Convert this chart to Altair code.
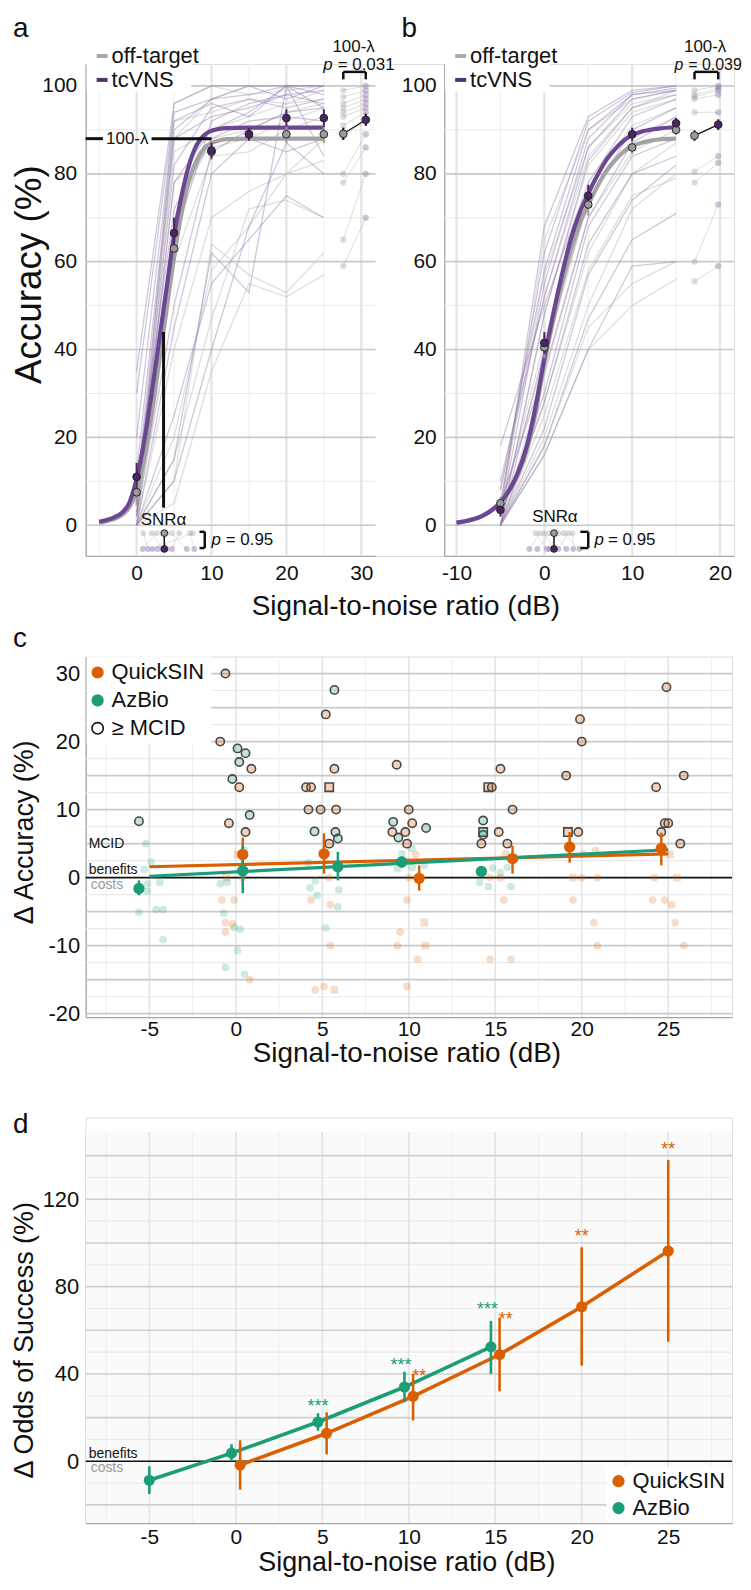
import altair as alt
import pandas as pd

FONT = "Liberation Sans"

PURPLE = "#4b2465"
PURPLE_FIT = "#6a4790"
PURPLE_IND = "#8e70ad"
PURPLE_LEG = "#55306f"
GREY = "#9c9c9c"
GREY_FIT = "#a3a3a3"
GREY_IND = "#c0c0c0"
GREY_LEG = "#aaaaaa"
ORANGE = "#d95f02"
GREEN = "#1b9e77"
GRID_DARK = "#c9c9c9"
GRID_LIGHT = "#eaeaea"
GRID_V = "#e4e4e4"
GRID_V_LIGHT = "#f0f0f0"
AXIS_COL = "#a6a6a6"
TXT = "#111111"

# ---------------- panel a (QuickSIN) ----------------
A_SNR = [0, 5, 10, 15, 20, 25]
A_PURPLE_LINES = [
    [35, 96, 100, 100, 100, 100], [30, 94, 97, 100, 97, 100], [20, 92, 96, 93, 100, 98],
    [12, 90, 97, 98, 100, 100], [8, 88, 93, 95, 98, 96], [5, 82, 95, 97, 95, 97],
    [3, 78, 90, 94, 100, 95], [10, 72, 88, 92, 93, 92], [2, 65, 92, 96, 98, 99],
    [0, 45, 80, 88, 85, 88], [0, 25, 55, 65, 75, 70], [0, 15, 62, 53, 100, 84],
    [0, 10, 40, 68, 87, 80], [2, 50, 85, 90, 94, 95],
]
A_GREY_LINES = [
    [0, 96, 100, 98, 99, 100], [2, 92, 94, 97, 96, 99], [5, 85, 90, 93, 96, 97],
    [3, 78, 86, 88, 92, 95], [0, 70, 88, 90, 94, 96], [0, 60, 84, 85, 90, 93],
    [0, 40, 70, 76, 80, 83], [0, 15, 47, 72, 74, 70], [0, 10, 64, 57, 53, 62],
    [0, 5, 35, 55, 52, 57], [2, 88, 97, 100, 100, 100], [0, 20, 58, 68, 80, 88],
]
A_MEAN_PURPLE = [11, 66.5, 85.3, 89, 92.7, 92.7]
A_ERR_PURPLE = [3.2, 3.5, 1.8, 1.5, 2.0, 2.0]
A_MEAN_GREY = [7.5, 63, 85, 89, 89, 89]
A_ERR_GREY = [3.0, 3.5, 1.8, 1.5, 2.0, 2.0]
A_FIT_X = [-5, -4, -3, -2, -1, 0, 1, 2, 3, 4, 5, 6, 7, 8, 9, 10, 11, 12, 15, 20, 25]
A_FIT_PURPLE = [0.8, 1.2, 1.8, 2.8, 5, 10.5, 19, 30, 42, 54, 66, 75, 82, 86.5, 88.8, 89.8, 90.2, 90.4, 90.5, 90.5, 90.5]
A_FIT_GREY = [0.6, 0.9, 1.4, 2.3, 4, 8, 15, 25, 37, 49, 61, 71, 78.5, 83, 85.8, 87, 87.6, 87.9, 88, 88, 88]
A_LAMBDA_X = [27.6, 30.6]
A_LAMBDA_GREY = [99, 97.5, 96, 95, 94, 93, 91, 88.5, 80, 78, 65, 59]
A_LAMBDA_PURPLE = [100, 99, 98, 97, 96, 95, 94, 92, 89, 86, 80, 70]
A_LAMBDA_MEAN = [89.1, 92.3]
A_LAMBDA_ERR = [1.4, 1.4]
A_SNRA_GREY_X = [0.9, 2.0, 2.7, 3.5, 4.0, 4.7, 5.7, 7.1, 7.5]
A_SNRA_PURPLE_X = [1.5, 3.5, 0.8, 4.0, 2.8, 6.7, 4.7, 7.7, 2.1]
A_SNRA_MEAN = 3.7
A_LAMBDA_LEVEL = 88
A_SNRA_LEVEL = 3.6

# ---------------- panel b (AzBio) ----------------
B_SNR = [-5, 0, 5, 10, 15]
B_PURPLE_LINES = [
    [3, 68, 93, 99, 100], [5, 62, 92, 98.5, 100], [8, 58, 90, 98, 99.5], [2, 55, 88, 98, 99],
    [10, 52, 86, 97, 99], [0, 48, 83, 95, 98], [18, 50, 78, 93, 97], [0, 40, 74, 90, 95],
    [5, 35, 70, 87, 93], [0, 28, 64, 80, 84], [0, 22, 57, 74, 82], [0, 18, 47, 65, 71],
    [0, 16, 40, 59, 60], [2, 30, 68, 84, 88],
]
B_GREY_LINES = [
    [2, 65, 90, 97, 99], [5, 57, 86, 96, 98], [0, 48, 82, 94, 97], [3, 42, 77, 91, 95],
    [8, 52, 84, 95, 99], [0, 34, 70, 85, 90], [0, 28, 62, 80, 87], [0, 20, 50, 72, 80],
    [0, 16, 40, 50, 56], [0, 25, 58, 75, 79], [0, 18, 45, 55, 60], [4, 38, 74, 88, 93],
]
B_MEAN_PURPLE = [3.5, 41.5, 75, 89, 91.5]
B_ERR_PURPLE = [1.5, 2.5, 2.5, 1.5, 1.2]
B_MEAN_GREY = [5, 40.5, 73, 86, 90]
B_ERR_GREY = [1.5, 2.5, 2.5, 1.5, 1.2]
B_FIT_X = [-10, -9, -8, -7, -6, -5, -4, -3, -2, -1, 0, 1, 2, 3, 4, 5, 6, 7, 8, 9, 10, 11, 12, 13, 15]
B_FIT_PURPLE = [0.6, 0.9, 1.4, 2.2, 3.4, 5.2, 8, 12, 18, 27, 38, 48, 57, 65, 71, 75.5, 79.5, 83, 85.5, 87.5, 88.8, 89.6, 90, 90.3, 90.6]
B_FIT_GREY = [0.6, 0.9, 1.4, 2.2, 3.4, 5.2, 7.8, 11.5, 17, 25.5, 37, 46.5, 55, 62.5, 68.5, 73, 77, 80.5, 83, 85, 86.3, 87, 87.5, 87.8, 88]
B_LAMBDA_X = [17.1, 19.8]
B_LAMBDA_GREY = [99, 98, 97.5, 97, 94, 80.5, 78, 60, 55.5]
B_LAMBDA_PURPLE = [100, 99.5, 99, 98, 94, 84, 82.5, 73, 59]
B_LAMBDA_MEAN = [88.7, 91.2]
B_LAMBDA_ERR = [1.2, 1.2]
B_SNRA_GREY_X = [-1.0, -0.5, 0.0, 0.6, 1.1, 1.6, 2.2, 2.7, 3.2]
B_SNRA_PURPLE_X = [0.3, -1.7, 1.1, -0.8, 2.5, 0.6, 4.0, 1.6, 3.3]
B_SNRA_MEAN = 1.1
SNRA_ROWS = [-1.8, -5.4]

# ---------------- panel c (delta accuracy) ----------------
C_QS_MEAN_X = [0.4, 5.1, 10.6, 16.0, 19.3, 24.6]
C_QS_MEAN_Y = [3.4, 3.5, -0.1, 2.8, 4.5, 4.3]
C_QS_LO = [0.6, 0.6, -1.9, 0.6, 2.2, 1.8]
C_QS_HI = [5.9, 6.5, 1.8, 4.7, 6.7, 6.6]
C_AZ_MEAN_X = [-5.6, 0.4, 5.9, 9.6, 14.2]
C_AZ_MEAN_Y = [-1.6, 1.0, 1.6, 2.3, 0.9]
C_AZ_LO = [-2.6, -2.3, -0.4, 1.5, 0.2]
C_AZ_HI = [-0.4, 4.7, 3.8, 3.1, 1.6]
C_FIT_X = [-5, 25]
C_FIT_QS = [1.6, 3.5]
C_FIT_AZ = [0.2, 4.1]
C_AZ_MCID = [(-5.6, 8.3, "o"), (0.1, 19.0, "o"), (0.2, 17, "o"), (0.56, 18.3, "o"), (-0.2, 14.5, "o"),
             (0.8, 9.2, "o"), (5.7, 27.6, "o"), (4.55, 6.8, "o"), (5.76, 6.7, "o"), (5.9, 5.75, "o"),
             (9.1, 8.2, "o"), (9.4, 5.9, "o"), (11, 7.3, "o"), (14.3, 8.4, "o"), (14.3, 6.3, "o"),
             (14.3, 6.7, "s")]
C_QS_MCID = [(-0.6, 30, "o"), (-0.9, 20, "o"), (0.9, 16, "o"), (0.2, 13.3, "o"), (-0.4, 8, "o"),
             (0.56, 6.7, "o"), (4.06, 13.3, "o"), (4.35, 13.3, "o"), (5.4, 13.3, "s"), (5.2, 24, "o"),
             (5.7, 16, "o"), (4.2, 10, "o"), (4.9, 10, "o"), (5.8, 10, "o"), (5.4, 5, "o"),
             (9.3, 16.6, "o"), (10, 10, "o"), (10.2, 8, "o"), (9.05, 6.7, "o"), (9.8, 6.7, "o"),
             (9.9, 5, "o"), (14.6, 13.3, "s"), (14.8, 13.3, "o"), (15.3, 16, "o"), (16, 10, "o"),
             (15.2, 6.7, "o"), (14.2, 5, "o"), (15.7, 5, "o"), (19.9, 23.3, "o"), (20, 20, "o"),
             (19.1, 15, "o"), (19.2, 6.7, "s"), (19.8, 6.7, "o"), (24.9, 28, "o"), (24.3, 13.3, "o"),
             (25.9, 15, "o"), (24.8, 8, "o"), (25, 8, "o"), (24.6, 6.7, "o"), (25.7, 5, "o")]
C_AZ_OTHER = [(-5.2, 5, "o"), (-4.9, 2.3, "o"), (-5.3, 1.2, "o"), (-5.1, -0.9, "o"), (-5.1, -2, "o"),
              (-4.4, -0.7, "o"), (-5.6, -5.1, "o"), (-4.6, -4.7, "o"), (-4.2, -4.7, "o"), (-4.2, -9.1, "o"),
              (-0.9, -0.9, "o"), (-0.5, -0.7, "o"), (-0.7, -5.2, "o"), (-0.1, -7.3, "o"), (0.25, -7.6, "o"),
              (0.1, -10.7, "o"), (-0.6, -13.2, "o"), (0.5, -14.2, "o"), (0.5, 4.1, "o"), (4.2, 2.2, "o"),
              (4.6, -0.5, "o"), (4.3, -1.5, "o"), (4.7, -2.6, "o"), (5.9, -4.3, "o"), (5.96, -1.8, "o"),
              (5.2, -7.4, "o"), (9.6, 3.5, "o"), (10.2, 4.3, "o"), (9.35, 1.3, "o"), (10.2, 1.5, "o"),
              (10.9, 1.8, "o"), (14.85, 1.4, "o"), (15.3, 0.7, "o"), (15.7, 1.5, "o"), (14.1, -0.7, "o"),
              (14.6, -1.3, "o"), (15.9, -1.3, "o")]
C_QS_OTHER = [(-0.8, -3.3, "o"), (-0.1, -3.3, "o"), (-0.6, -6.6, "o"), (-0.2, -6.8, "o"), (-0.6, -8, "o"),
              (0.8, -15, "o"), (0.12, 3.4, "s"), (-0.55, 0, "s"), (0.4, 0, "o"), (4.35, -3.3, "o"),
              (5.4, 0, "o"), (5.46, -4, "o"), (5.46, -10, "o"), (4.6, -16.5, "o"), (5.1, -16, "o"),
              (5.7, -16.5, "s"), (10.4, 3.4, "o"), (10, 0, "o"), (9.9, -3.3, "o"), (10.9, -6.6, "s"),
              (9.5, -8, "o"), (9.35, -10, "o"), (10.95, -10, "s"), (10.5, -12, "o"), (9.9, -16, "o"),
              (14.7, 0, "o"), (15.3, 0, "o"), (15.6, 3.5, "o"), (15.5, -3.3, "o"), (14.7, -12, "o"),
              (15.9, -12, "o"), (19.5, 0, "s"), (20, 0, "o"), (20.9, 0, "o"), (20.1, 3.5, "o"),
              (20.8, 4, "o"), (19.5, -3.3, "o"), (20.7, -6.6, "o"), (20.9, -10, "o"), (24.2, 0, "o"),
              (25.5, 0, "s"), (25.1, 3.4, "s"), (24.1, -3.3, "o"), (24.8, -3.3, "o"), (25.2, -4, "o"),
              (25.4, -6.6, "o"), (25.9, -10, "o")]

# ---------------- panel d (delta odds of success) ----------------
D_QS_X = [0.25, 5.25, 10.25, 15.25, 20, 25]
D_QS_Y = [-1.7, 12.8, 29.7, 48.9, 70.8, 96.3]
D_QS_LO = [-13, 3.2, 18.7, 32, 43.8, 54.8]
D_QS_HI = [9.6, 22.4, 40, 65.7, 98, 138]
D_AZ_X = [-5, -0.25, 4.75, 9.75, 14.75]
D_AZ_Y = [-8.7, 3.7, 18, 34, 52.4]
D_AZ_LO = [-15, 0, 14, 27, 40]
D_AZ_HI = [-2.3, 7.8, 22, 41, 64.3]
D_STARS_AZ = [(4.75, 27.3, "***"), (9.55, 46.0, "***"), (14.55, 71.5, "***")]
D_STARS_QS = [(10.6, 41.0, "**"), (15.6, 67.0, "**"), (20, 105, "**"), (25, 145, "**")]

ONE = pd.DataFrame({"k": [0]})
LBL = "'' + datum.value"


def xaxis(values, lpad, title=None, titleX=0, titleY=0, tsize=28):
    kw = dict(values=values, grid=False, ticks=False, domain=True, domainColor=AXIS_COL, domainWidth=1.3,
              labelFontSize=21, labelColor=TXT, labelPadding=lpad, labelFont=FONT, labelExpr=LBL,
              orient="bottom")
    if title:
        kw.update(title=title, titleFontSize=tsize, titleFont=FONT, titleFontWeight="normal",
                  titleColor=TXT, titleX=titleX, titleY=titleY, titleBaseline="alphabetic",
                  titleAlign="center", titleAngle=0)
    else:
        kw.update(title=None)
    return alt.Axis(**kw)


def yaxis(values, lpad, title=None, titleX=0, titleY=0, tsize=29, lsize=21, offset=0):
    kw = dict(values=values, grid=False, ticks=False, domain=True, domainColor=AXIS_COL, domainWidth=1.3,
              labelFontSize=lsize, labelColor=TXT, labelPadding=lpad, labelFont=FONT, labelExpr=LBL,
              orient="left", offset=offset)
    if title:
        kw.update(title=title, titleFontSize=tsize, titleFont=FONT, titleFontWeight="normal",
                  titleColor=TXT, titleX=titleX, titleY=titleY, titleBaseline="alphabetic",
                  titleAlign="center", titleAngle=270)
    else:
        kw.update(title=None)
    return alt.Axis(**kw)


class Ctx:
    def __init__(self, xs, ys, xa, ya):
        self.xs, self.ys, self.xa, self.ya = xs, ys, xa, ya

    def X(self, f="x"):
        return alt.X(f"{f}:Q", scale=self.xs, axis=self.xa)

    def Y(self, f="y"):
        return alt.Y(f"{f}:Q", scale=self.ys, axis=self.ya)


# ---------------- scales / axes ----------------
CA = Ctx(alt.Scale(domain=[-6.8, 31.9], range=[0, 291], nice=False, zero=False),
         alt.Scale(domain=[-7, 105], nice=False, zero=False),
         xaxis([0, 10, 20, 30], 7, "Signal-to-noise ratio (dB)", 321, 59, 28),
         yaxis([0, 20, 40, 60, 80, 100], 9, "Accuracy (%)", -45, 211, 37, 21))
CB = Ctx(alt.Scale(domain=[-11.4, 21.6], range=[360, 651], nice=False, zero=False),
         alt.Scale(domain=[-7, 105], nice=False, zero=False),
         xaxis([-10, 0, 10, 20], 7),
         yaxis([0, 20, 40, 60, 80, 100], 8, lsize=21, offset=-360))
CC = Ctx(alt.Scale(domain=[-8.68, 28.69], nice=False, zero=False),
         alt.Scale(domain=[-20.5, 32.5], nice=False, zero=False),
         xaxis([-5, 0, 5, 10, 15, 20, 25], 1, "Signal-to-noise ratio (dB)", 322, 45, 28),
         yaxis([-20, -10, 0, 10, 20, 30], 6, "Δ Accuracy (%)", -53, 176, 27, 22))
CD = Ctx(alt.Scale(domain=[-8.68, 28.69], nice=False, zero=False),
         alt.Scale(domain=[-28.3, 151], range=[407, 14], nice=False, zero=False),
         xaxis([-5, 0, 5, 10, 15, 20, 25], 4, "Signal-to-noise ratio (dB)", 322, 48, 27),
         yaxis([0, 40, 80, 120], 7, "Δ Odds of Success (%)", -53, 223, 27, 22))


def hgrid(c, vals, x0, x1, color, width):
    return alt.Chart(pd.DataFrame({"y": vals})).mark_rule(color=color, strokeWidth=width).encode(
        y=c.Y(), x=alt.value(x0), x2=alt.value(x1))


def vgrid(c, vals, y0, y1, color, width):
    return alt.Chart(pd.DataFrame({"x": vals})).mark_rule(color=color, strokeWidth=width).encode(
        x=c.X(), y=alt.value(y0), y2=alt.value(y1))


def ptext(x, y, s, size=17, color=TXT, align="left", baseline="alphabetic", style="normal"):
    return alt.Chart(pd.DataFrame({"t": [s]})).mark_text(
        align=align, baseline=baseline, fontSize=size, color=color, fontStyle=style, font=FONT
    ).encode(x=alt.value(x), y=alt.value(y), text="t:N")


def prect(x0, x1, y0, y1, color="white"):
    return alt.Chart(ONE).mark_rect(color=color).encode(
        x=alt.value(x0), x2=alt.value(x1), y=alt.value(y0), y2=alt.value(y1))


def prule(x0, x1, y0, y1, color, width):
    return alt.Chart(ONE).mark_rule(color=color, strokeWidth=width).encode(
        x=alt.value(x0), x2=alt.value(x1), y=alt.value(y0), y2=alt.value(y1))


def pdot(x, y, color, size=150, filled=True):
    if filled:
        m = alt.Chart(ONE).mark_circle(size=size, color=color, opacity=1)
    else:
        m = alt.Chart(ONE).mark_point(size=size, color=color, strokeWidth=1.6, filled=False, opacity=1)
    return m.encode(x=alt.value(x), y=alt.value(y))


def dtext(c, x, y, s, size=17, color=TXT, align="left", baseline="alphabetic", style="normal", dy=0):
    d = pd.DataFrame({"x": [x], "y": [y], "t": [s]})
    return alt.Chart(d).mark_text(align=align, baseline=baseline, fontSize=size, color=color,
                                  fontStyle=style, font=FONT, dy=dy).encode(
        x=c.X(), y=c.Y(), text="t:N")


def dseg(c, segs, color, width, opacity=1.0):
    d = pd.DataFrame(segs, columns=["x", "y", "x2", "y2"])
    return alt.Chart(d).mark_rule(color=color, strokeWidth=width, opacity=opacity).encode(
        x=c.X(), y=c.Y(), x2="x2:Q", y2="y2:Q")


def indiv(xs, rows, prefix):
    recs = []
    for i, r in enumerate(rows):
        for x, y in zip(xs, r):
            recs.append({"x": x, "y": y, "pid": f"{prefix}{i}"})
    return pd.DataFrame(recs)


def lines(c, d, color, width, opacity=1.0, interp="linear"):
    return alt.Chart(d).mark_line(color=color, strokeWidth=width, opacity=opacity,
                                  interpolate=interp).encode(x=c.X(), y=c.Y(), detail="pid:N")


def pts(c, d, color, size, opacity=1.0, stroke=None, sw=1.0):
    kw = dict(size=size, opacity=opacity, color=color)
    if stroke:
        kw.update(stroke=stroke, strokeWidth=sw)
    return alt.Chart(d).mark_circle(**kw).encode(x=c.X(), y=c.Y())


def errbars(c, xs, lo, hi, color, width):
    d = pd.DataFrame({"x": xs, "y": lo, "y2": hi})
    return alt.Chart(d).mark_rule(color=color, strokeWidth=width).encode(x=c.X(), y=c.Y(), y2="y2:Q")


def fit_df(xs, ys):
    return pd.DataFrame({"x": xs, "y": ys, "pid": ["f"] * len(xs)})


def mean_df(xs, ys):
    return pd.DataFrame({"x": xs, "y": ys})


def panel_top(c, x0, x1, snr, purple_rows, grey_rows, mp, ep, mg, eg, fx, fp, fg,
              lam_x, lam_g, lam_p, lam_mean, lam_err, snra_gx, snra_px, snra_mean,
              hmajor, hminor, vmajor, vminor, pval, snra_lbl_xy,
              bracket_x, p95_x, leg_x, label, label_x, ptxt_x, lam_lbl_x, extra=()):
    L = []
    L.append(hgrid(c, hminor, x0, x1, GRID_LIGHT, 1))
    L.append(vgrid(c, vminor, 0, 494, GRID_V_LIGHT, 1.2))
    L.append(vgrid(c, vmajor, 0, 494, GRID_V, 2.2))
    L.append(hgrid(c, hmajor, x0, x1, GRID_DARK, 1.7))
    L.append(prect(x0 + 1, x0 + 106, 0, 28))
    L.append(lines(c, indiv(snr, grey_rows, "g"), GREY_IND, 1.3, 0.5))
    L.append(lines(c, indiv(snr, purple_rows, "p"), PURPLE_IND, 1.3, 0.4))
    L.append(lines(c, fit_df(fx, fg), GREY_FIT, 4.2, 1.0, "monotone"))
    L.append(lines(c, fit_df(fx, fp), PURPLE_FIT, 4.2, 1.0, "monotone"))
    L.extend(extra)
    # means with error bars
    L.append(errbars(c, snr, [m - e for m, e in zip(mg, eg)], [m + e for m, e in zip(mg, eg)], GREY, 2))
    L.append(errbars(c, snr, [m - e for m, e in zip(mp, ep)], [m + e for m, e in zip(mp, ep)], PURPLE, 2))
    L.append(pts(c, mean_df(snr, mg), GREY, 60, 1, "#222222", 1))
    L.append(pts(c, mean_df(snr, mp), PURPLE, 60, 1, "#222222", 1))
    # 100-lambda column
    pairs = []
    for i, (g, p) in enumerate(zip(lam_g, lam_p)):
        pairs.append({"x": lam_x[0], "y": g, "pid": f"l{i}"})
        pairs.append({"x": lam_x[1], "y": p, "pid": f"l{i}"})
    L.append(lines(c, pd.DataFrame(pairs), "#bdbdbd", 0.9, 0.6))
    L.append(pts(c, mean_df([lam_x[0]] * len(lam_g), lam_g), GREY, 40, 0.35))
    L.append(pts(c, mean_df([lam_x[1]] * len(lam_p), lam_p), PURPLE_IND, 40, 0.4))
    L.append(dseg(c, [(lam_x[0], lam_mean[0], lam_x[1], lam_mean[1])], "#111111", 1.3))
    L.append(errbars(c, lam_x, [m - e for m, e in zip(lam_mean, lam_err)],
                     [m + e for m, e in zip(lam_mean, lam_err)], "#111111", 2))
    L.append(pts(c, mean_df([lam_x[0]], [lam_mean[0]]), GREY, 60, 1, "#222222", 1))
    L.append(pts(c, mean_df([lam_x[1]], [lam_mean[1]]), PURPLE, 60, 1, "#222222", 1))
    L.append(dseg(c, [(lam_x[0], 103.2, lam_x[1], 103.2), (lam_x[0], 103.2, lam_x[0], 101.5),
                      (lam_x[1], 103.2, lam_x[1], 101.5)], "#111111", 2.5))
    # SNR alpha row
    spairs = []
    for i, (g, p) in enumerate(zip(snra_gx, snra_px)):
        spairs.append({"x": g, "y": SNRA_ROWS[0], "pid": f"s{i}"})
        spairs.append({"x": p, "y": SNRA_ROWS[1], "pid": f"s{i}"})
    sp = pd.DataFrame(spairs)
    L.append(alt.Chart(sp).mark_line(color="#c8c8c8", strokeWidth=0.8, opacity=0.6).encode(
        x=c.X(), y=c.Y(), detail="pid:N", order="y:Q"))
    L.append(pts(c, mean_df(snra_gx, [SNRA_ROWS[0]] * len(snra_gx)), GREY, 35, 0.35))
    L.append(pts(c, mean_df(snra_px, [SNRA_ROWS[1]] * len(snra_px)), PURPLE_IND, 35, 0.45))
    L.append(dseg(c, [(snra_mean, SNRA_ROWS[0], snra_mean, SNRA_ROWS[1])], "#111111", 1.5))
    L.append(pts(c, mean_df([snra_mean], [SNRA_ROWS[0]]), GREY, 45, 1, "#222222", 1))
    L.append(pts(c, mean_df([snra_mean], [SNRA_ROWS[1]]), PURPLE, 45, 1, "#222222", 1))
    L.append(dseg(c, [(bracket_x[1], -1.5, bracket_x[1], -5.2), (bracket_x[0], -1.5, bracket_x[1], -1.5),
                      (bracket_x[0], -5.2, bracket_x[1], -5.2)], "#111111", 2.5))
    L.append(dtext(c, p95_x[0], -4.5, "p", 17, style="italic"))
    L.append(dtext(c, p95_x[1], -4.5, "= 0.95", 17))
    L.append(dtext(c, snra_lbl_xy[0], snra_lbl_xy[1], "SNRα", 17, align="center"))
    # 100-lambda / p text above
    L.append(ptext(lam_lbl_x, -12, "100-λ", 17, align="center"))
    L.append(ptext(ptxt_x[0], 6, "p", pval[1], style="italic", align="right"))
    L.append(ptext(ptxt_x[1], 6, pval[0], pval[1]))
    # legend
    L.append(prule(leg_x, leg_x + 11, -8, -8, GREY_LEG, 4))
    L.append(prule(leg_x, leg_x + 11, 16, 16, PURPLE_LEG, 4))
    L.append(ptext(leg_x + 15, -8, "off-target", 22, baseline="middle"))
    L.append(ptext(leg_x + 15, 16, "tcVNS", 22, baseline="middle"))
    L.append(ptext(label_x, -27, label, 28))
    return L


a_extra = [
    dseg(CA, [(-6.8, A_LAMBDA_LEVEL, -4.5, A_LAMBDA_LEVEL), (2.0, A_LAMBDA_LEVEL, 10, A_LAMBDA_LEVEL)],
         "#111111", 3),
    dtext(CA, -1.25, A_LAMBDA_LEVEL, "100-λ", 17, align="center", baseline="middle"),
    dseg(CA, [(A_SNRA_LEVEL, 4, A_SNRA_LEVEL, 44)], "#111111", 3),
]

a_layers = panel_top(
    CA, 0, 291, A_SNR, A_PURPLE_LINES, A_GREY_LINES, A_MEAN_PURPLE, A_ERR_PURPLE, A_MEAN_GREY, A_ERR_GREY,
    A_FIT_X, A_FIT_PURPLE, A_FIT_GREY, A_LAMBDA_X, A_LAMBDA_GREY, A_LAMBDA_PURPLE, A_LAMBDA_MEAN, A_LAMBDA_ERR,
    A_SNRA_GREY_X, A_SNRA_PURPLE_X, A_SNRA_MEAN,
    [0, 20, 40, 60, 80, 100], [10, 30, 50, 70, 90], [0, 10, 20, 30], [-5, 5, 15, 25],
    ("= 0.031", 17), (3.6, 0), (8.4, 9.1), (10.0, 11.9), 11, "a", -73, (248, 253), 269, a_extra)

b_layers = panel_top(
    CB, 360, 651, B_SNR, B_PURPLE_LINES, B_GREY_LINES, B_MEAN_PURPLE, B_ERR_PURPLE, B_MEAN_GREY, B_ERR_GREY,
    B_FIT_X, B_FIT_PURPLE, B_FIT_GREY, B_LAMBDA_X, B_LAMBDA_GREY, B_LAMBDA_PURPLE, B_LAMBDA_MEAN, B_LAMBDA_ERR,
    B_SNRA_GREY_X, B_SNRA_PURPLE_X, B_SNRA_MEAN,
    [0, 20, 40, 60, 80, 100], [10, 30, 50, 70, 90], [-10, 0, 10, 20], [-5, 5, 15],
    ("= 0.039", 16), (1.2, 0.7), (4.1, 5.0), (5.7, 7.25), 371, "b", 317, (600, 605), 622)

top = alt.layer(alt.layer(*a_layers), alt.layer(*b_layers)).resolve_scale(
    x="independent", y="independent").properties(width=651, height=494)

# ---------------- panel c ----------------
GRP = alt.Scale(domain=["QuickSIN", "AzBio"], range=[ORANGE, GREEN])


def pts_df(rows, g):
    return pd.DataFrame({"x": [r[0] for r in rows], "y": [r[1] for r in rows],
                         "shape": ["square" if r[2] == "s" else "circle" for r in rows], "g": [g] * len(rows)})


c_other = pd.concat([pts_df(C_AZ_OTHER, "AzBio"), pts_df(C_QS_OTHER, "QuickSIN")])
c_mcid = pd.concat([pts_df(C_AZ_MCID, "AzBio"), pts_df(C_QS_MCID, "QuickSIN")])
c_fit = pd.DataFrame({"x": C_FIT_X * 2, "y": C_FIT_QS + C_FIT_AZ,
                      "g": ["QuickSIN"] * 2 + ["AzBio"] * 2})
c_mean = pd.DataFrame({"x": C_QS_MEAN_X + C_AZ_MEAN_X, "y": C_QS_MEAN_Y + C_AZ_MEAN_Y,
                       "lo": C_QS_LO + C_AZ_LO, "hi": C_QS_HI + C_AZ_HI,
                       "g": ["QuickSIN"] * len(C_QS_MEAN_X) + ["AzBio"] * len(C_AZ_MEAN_X)})

c_layers = [
    hgrid(CC, [-17.5, -12.5, -7.5, -2.5, 2.5, 7.5, 12.5, 17.5, 22.5, 27.5], 0, 649, GRID_LIGHT, 1.1),
    vgrid(CC, [-7.5, -2.5, 2.5, 7.5, 12.5, 17.5, 22.5, 27.5], 0, 362, GRID_V_LIGHT, 1.1),
    vgrid(CC, [-5, 0, 5, 10, 15, 20, 25], 0, 362, GRID_V, 1.6),
    hgrid(CC, [-20, -15, -10, -5, 5, 10, 15, 20, 25, 30], 0, 649, GRID_DARK, 1.7),
    prect(1, 126, 0, 88),
    hgrid(CC, [0], 0, 649, "#111111", 1.6),
    alt.Chart(c_other).mark_point(filled=True, size=60, opacity=0.22, strokeWidth=0).encode(
        x=CC.X(), y=CC.Y(), color=alt.Color("g:N", scale=GRP, legend=None),
        shape=alt.Shape("shape:N", scale=None)),
    alt.Chart(c_fit).mark_line(strokeWidth=3.2).encode(
        x=CC.X(), y=CC.Y(), color=alt.Color("g:N", scale=GRP, legend=None)),
    alt.Chart(c_mcid).mark_point(filled=True, size=70, fillOpacity=0.28, stroke="#474747",
                                 strokeWidth=1.6, strokeOpacity=1).encode(
        x=CC.X(), y=CC.Y(), fill=alt.Fill("g:N", scale=GRP, legend=None),
        shape=alt.Shape("shape:N", scale=None)),
    alt.Chart(c_mean).mark_rule(strokeWidth=2.5).encode(
        x=CC.X(), y=CC.Y("lo"), y2="hi:Q", color=alt.Color("g:N", scale=GRP, legend=None)),
    alt.Chart(c_mean).mark_circle(size=130, opacity=1).encode(
        x=CC.X(), y=CC.Y(), color=alt.Color("g:N", scale=GRP, legend=None)),
    pdot(12, 16, ORANGE), pdot(12, 44, GREEN), pdot(12, 72, "#111111", 130, filled=False),
    ptext(26, 16, "QuickSIN", 22, baseline="middle"),
    ptext(26, 44, "AzBio", 22, baseline="middle"),
    ptext(26, 72, "≥ MCID", 22, baseline="middle"),
    ptext(3, 188, "MCID", 14, baseline="middle"),
    ptext(3, 214, "benefits", 14, baseline="middle"),
    ptext(5, 229, "costs", 14, color="#9a9a9a", baseline="middle"),
    ptext(-73, -10, "c", 28),
]
cc = alt.layer(*c_layers).properties(width=649, height=362)

# ---------------- panel d ----------------
d_line = pd.DataFrame({"x": D_QS_X + D_AZ_X, "y": D_QS_Y + D_AZ_Y,
                       "lo": D_QS_LO + D_AZ_LO, "hi": D_QS_HI + D_AZ_HI,
                       "g": ["QuickSIN"] * len(D_QS_X) + ["AzBio"] * len(D_AZ_X)})
d_stars = pd.DataFrame({"x": [s[0] for s in D_STARS_QS + D_STARS_AZ],
                        "y": [s[1] for s in D_STARS_QS + D_STARS_AZ],
                        "t": [s[2] for s in D_STARS_QS + D_STARS_AZ],
                        "g": ["QuickSIN"] * len(D_STARS_QS) + ["AzBio"] * len(D_STARS_AZ)})

d_layers = [
    prect(0, 649, 14, 407, "#fafafa"),
    hgrid(CD, [-10, 10, 30, 50, 70, 90, 110, 130], 0, 649, GRID_LIGHT, 1.1),
    vgrid(CD, [-7.5, -2.5, 2.5, 7.5, 12.5, 17.5, 22.5, 27.5], 14, 407, GRID_V_LIGHT, 1.1),
    vgrid(CD, [-5, 0, 5, 10, 15, 20, 25], 14, 407, GRID_V, 1.6),
    hgrid(CD, [-20, 20, 40, 60, 80, 100, 120, 140], 0, 649, "#cfcfcf", 1.6),
    hgrid(CD, [0], 0, 649, "#111111", 1.6),
    alt.Chart(d_line).mark_line(strokeWidth=3.6).encode(
        x=CD.X(), y=CD.Y(), color=alt.Color("g:N", scale=GRP, legend=None)),
    alt.Chart(d_line).mark_rule(strokeWidth=2.6).encode(
        x=CD.X(), y=CD.Y("lo"), y2="hi:Q", color=alt.Color("g:N", scale=GRP, legend=None)),
    alt.Chart(d_line).mark_circle(size=125, opacity=1).encode(
        x=CD.X(), y=CD.Y(), color=alt.Color("g:N", scale=GRP, legend=None)),
    alt.Chart(d_stars).mark_text(fontSize=18, baseline="middle", align="center", dy=5, font=FONT).encode(
        x=CD.X(), y=CD.Y(), text="t:N", color=alt.Color("g:N", scale=GRP, legend=None)),
    prect(523, 649, 351, 406),
    pdot(535, 365, ORANGE), pdot(535, 392, GREEN),
    ptext(549, 365, "QuickSIN", 22, baseline="middle"),
    ptext(549, 392, "AzBio", 22, baseline="middle"),
    ptext(3, 338, "benefits", 14, baseline="middle"),
    ptext(5, 352, "costs", 14, color="#9a9a9a", baseline="middle"),
    ptext(-73, 15, "d", 28),
]
dd = alt.layer(*d_layers).properties(width=649, height=407)

chart = alt.vconcat(top, cc, dd, spacing=101, bounds="flush").properties(
    padding={"left": 2, "top": 3, "right": 0, "bottom": 0}
).configure_view(stroke=None).configure(font=FONT)

chart.save("out.html", embed_options={"renderer": "svg", "actions": False})
